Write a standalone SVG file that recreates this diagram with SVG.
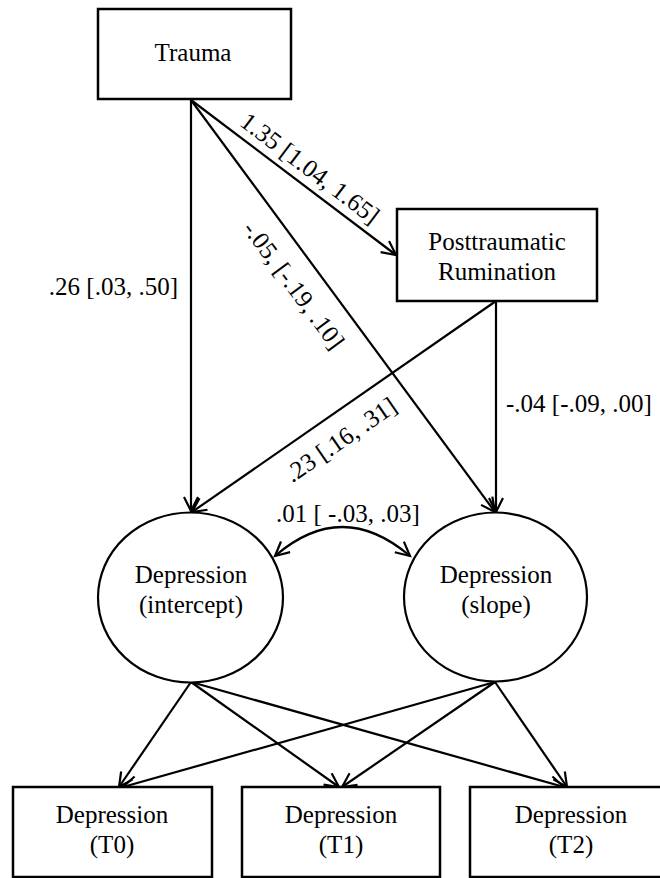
<svg xmlns="http://www.w3.org/2000/svg" width="660" height="878" viewBox="0 0 660 878" font-family="'Liberation Serif', 'DejaVu Serif', serif" font-size="25">
<style>
text{font-family:'Liberation Serif','DejaVu Serif',serif;font-size:25px;fill:#000}
.box{fill:#fff;stroke:#000;stroke-width:2.5}
.lat{fill:#fff;stroke:#000;stroke-width:2.2}
.c line,.c path{fill:none;stroke:#000;stroke-width:2.2;marker-end:url(#ah)}
.m{text-anchor:middle}
</style>
<defs>
<marker id="ah" markerWidth="18" markerHeight="18" refX="15" refY="8" orient="auto-start-reverse" markerUnits="userSpaceOnUse">
<path d="M1,1 L15,8 L1,15" fill="none" stroke="#000" stroke-width="2.2"/>
</marker>
</defs>
<rect width="660" height="878" fill="#fff"/>
<g class="c" id="connectors">
<line x1="191" y1="100" x2="191" y2="511"/>
<line x1="191" y1="100" x2="396" y2="255"/>
<line x1="191" y1="100" x2="495" y2="512"/>
<line x1="496" y1="301" x2="192" y2="512"/>
<line x1="496" y1="301" x2="496" y2="512"/>
<path d="M275,556 Q342,498 410,556" style="marker-start:url(#ah)"/>
<line x1="191" y1="682" x2="119" y2="787"/>
<line x1="191" y1="682" x2="339" y2="787"/>
<line x1="191" y1="682" x2="564" y2="787"/>
<line x1="495" y1="682" x2="123" y2="787"/>
<line x1="495" y1="682" x2="342" y2="787"/>
<line x1="495" y1="682" x2="567" y2="787"/>
</g>
<g id="labels" font-family="'Liberation Serif', serif">
<text x="178" y="295" text-anchor="end">.26 [.03, .50]</text>
<text class="m" transform="translate(305,175) rotate(37.05)">1.35 [1.04, 1.65]</text>
<text class="m" transform="translate(287,290) rotate(53.5)">-.05, [-.19, .10]</text>
<text class="m" transform="translate(345.5,446.6) rotate(-34.6)">.23 [.16, .31]</text>
<text x="506" y="412">-.04 [-.09, .00]</text>
<text x="276" y="522">.01 [ -.03, .03]</text>
</g>
<g id="trauma">
<rect class="box" x="98" y="9" width="193" height="90"/>
<text class="m" x="193" y="61">Trauma</text>
</g>
<g id="rumination">
<rect class="box" x="397" y="209" width="200" height="92"/>
<text class="m" x="497" y="250">Posttraumatic</text>
<text class="m" x="497" y="280">Rumination</text>
</g>
<g id="intercept">
<ellipse class="lat" cx="190.5" cy="597.5" rx="92.5" ry="85"/>
<text class="m" x="191" y="583">Depression</text>
<text class="m" x="191" y="613">(intercept)</text>
</g>
<g id="slope">
<ellipse class="lat" cx="495.5" cy="597" rx="91.5" ry="84.5"/>
<text class="m" x="496" y="583">Depression</text>
<text class="m" x="496" y="613">(slope)</text>
</g>
<g id="t0">
<rect class="box" x="13" y="787" width="199" height="90"/>
<text class="m" x="112" y="823">Depression</text>
<text class="m" x="112" y="853">(T0)</text>
</g>
<g id="t1">
<rect class="box" x="242" y="787" width="198" height="90"/>
<text class="m" x="341" y="823">Depression</text>
<text class="m" x="341" y="853">(T1)</text>
</g>
<g id="t2">
<rect class="box" x="470" y="787" width="200" height="90"/>
<text class="m" x="571" y="823">Depression</text>
<text class="m" x="571" y="853">(T2)</text>
</g>
</svg>
